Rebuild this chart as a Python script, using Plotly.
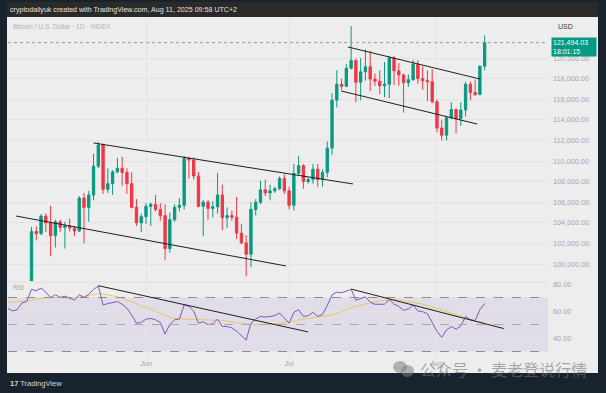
import plotly.graph_objects as go
import pandas as pd

# ---------------- data ----------------
dates = pd.date_range("2025-05-03", "2025-08-11", freq="D")

opens = [96900, 95900, 94300, 94750, 96850, 97050, 103150, 102950, 104650, 104000,
         102750, 104100, 103550, 103700, 103500, 103200, 106400, 105500, 106700, 109500,
         111550, 107250, 107800, 108950, 109300, 108900, 107800, 105500, 104000,
         104600, 105600, 105800, 105300, 104700, 101500, 104300, 105500, 105700, 110250,
         110100, 108550, 105600, 106000, 105400, 105550, 106700, 104500, 104700, 104550,
         103000, 102050, 100950, 105300, 106000, 107200, 106900, 107100, 107300, 108300,
         107100, 105700, 108800, 109550, 108000, 108200, 109200, 108200, 108900, 111250,
         115900, 117450, 117250, 119000, 119750, 117650, 118650, 119150, 117950, 117750,
         117300, 117450, 120000, 118750, 118350, 117600, 117900, 119400, 118000, 117800,
         117700, 115750, 113200, 112500, 114200, 115000, 114100, 114950, 117450, 116650,
         116450, 119200]
highs = [96950, 96350, 95200, 96900, 97700, 103600, 103650, 104850, 104900, 105650,
         104300, 104300, 104100, 104400, 103700, 106600, 106900, 107100, 110700, 111850,
         111700, 109300, 109100, 110300, 110400, 109300, 108900, 106300, 104900,
         105900, 105950, 106700, 105900, 105800, 105000, 105800, 106400, 110500, 110400,
         110350, 108950, 106200, 106200, 106100, 108850, 107700, 105500, 105200, 106500,
         103900, 102800, 106000, 106300, 108100, 108200, 107700, 107500, 108500, 108700,
         107500, 109700, 110500, 109700, 108400, 109700, 109700, 109200, 111900, 116600,
         118800, 118000, 119400, 123100, 119950, 120000, 120850, 120700, 118500, 118800,
         119600, 120200, 120200, 119500, 118500, 118400, 119800, 119800, 119200, 118800,
         118900, 116000, 114000, 114300, 115700, 115100, 115700, 117700, 117700, 117900,
         119300, 122200]
lows = [95750, 94150, 93500, 93400, 95850, 96900, 102300, 102800, 103100, 100750,
        101600, 103100, 101500, 103150, 102700, 103100, 102000, 104100, 106200, 109300,
        106800, 106900, 106700, 108800, 107600, 106800, 105400, 103700, 103100,
        103900, 103700, 105100, 104200, 100400, 101100, 104100, 105100, 105300, 108300,
        108200, 105500, 102700, 104300, 104500, 104900, 103300, 103500, 104200, 102400,
        101900, 98800, 99700, 104700, 105800, 106600, 106200, 106900, 107200, 106800,
        105300, 105200, 108600, 107300, 107800, 107800, 107500, 107500, 108400, 110600,
        115200, 116900, 117200, 118900, 115700, 115900, 117800, 116800, 117300, 116500,
        116200, 116100, 117400, 117300, 114700, 117200, 117800, 117500, 116900, 115800,
        115600, 112800, 112000, 112000, 114100, 112700, 113400, 114300, 115900, 116300,
        116400, 118800]
closes = [95900, 94300, 94750, 96850, 97050, 103150, 102950, 104650, 104000, 102750,
          104100, 103550, 103700, 103500, 103200, 106400, 105500, 106700, 109500, 111550,
          107250, 107800, 108950, 109300, 108900, 107800, 105500, 104000, 104600,
          105600, 105800, 105300, 104700, 101500, 104300, 105500, 105700, 110250, 110100,
          108550, 105600, 106000, 105400, 105550, 106700, 104500, 104700, 104550, 103000,
          102050, 100950, 105300, 106000, 107200, 106900, 107100, 107300, 108300, 107100,
          105700, 108800, 109550, 108000, 108200, 109200, 108200, 108900, 111250, 115900,
          117450, 117250, 119000, 119750, 117650, 118650, 119150, 117950, 117750, 117300,
          117450, 120000, 118750, 118350, 117600, 117900, 119400, 118000, 117800, 117700,
          115750, 113200, 112500, 114200, 115000, 114100, 114950, 117450, 116650, 116450,
          119200, 121494.03]

rsi = [62, 60, 61, 66, 67, 76, 75, 77, 74, 70, 72, 70, 71, 69.5, 68, 72, 70, 72.5, 76, 78.5,
       64.5, 65.5, 66.5, 67, 65, 62, 57, 51, 51.5,
       54, 54.5, 53.5, 51.5, 43, 50, 53.5, 54, 64.5, 63.5, 60, 51, 52, 50, 50.5, 54, 48.5,
       48.5, 47.5, 45, 42, 38.5, 51, 54, 56, 55.5, 56, 56.5, 58.5, 55,
       51, 59, 61, 56, 56.5, 59, 56, 57.5, 64, 72, 74, 73.5, 75, 76, 68, 69.5, 70.5, 66.5,
       65, 65, 65, 68.5, 65, 63.5, 60.5, 61.5, 64.5, 60, 59.5, 58, 52,
       45, 40.5, 46, 48.5, 46.5, 49, 56, 53.5, 53, 61, 65.5]
rsi_ma = [66.5, 66.5, 66.8, 67.2, 67.8, 68.5, 69, 69.5, 69.8, 70, 70, 69.8, 69.5, 69.5, 69.8,
          70.2, 70.8, 71.5, 72.2, 72.8, 72.5, 72, 71.2, 70.5, 69.5, 68.3, 67, 65.5, 64,
          62.5, 61, 59.5, 58, 56.5, 55.5, 54.5, 54, 54, 53.8, 53.6, 53.5, 53.5, 53.3, 53.2,
          53.2, 53, 52.6, 52, 51.4, 50.8, 50.2, 50, 49.8, 49.8, 50, 50.2, 50.5, 51, 51.2,
          51.5, 52.5, 53.5, 54, 54.5, 55, 55.3, 55.5, 56, 57, 58.3, 59.5, 61, 62.5, 63.5,
          64.5, 65.5, 66.2, 67, 67.5, 68, 68.4, 68.5, 68, 67.5, 67, 66.5, 65.8, 65, 64.2, 63.2,
          62, 60.8, 59.5, 58.3, 57, 55.8, 54.5, 53.5, 52.5, 51.8, 51.2]

price_ticks = [100000, 102000, 104000, 106000, 108000, 110000, 112000, 114000, 116000,
               118000, 120000]
rsi_ticks = [40, 60, 80]
rsi_levels = [70, 50, 30]
month_ticks = ["2025-06-01", "2025-07-01", "2025-08-01"]
month_labels = ["Jun", "Jul", "Aug"]

# hand-drawn trendlines: (date0, value0, date1, value1)
price_trendlines = [
    ("2025-05-21 00:00", 111750, "2025-07-14 10:00", 107770),
    ("2025-05-04 18:00", 104660, "2025-06-30 08:00", 99810),
    ("2025-07-13 08:00", 121070, "2025-08-10 00:00", 117960),
    ("2025-07-11 22:00", 116800, "2025-08-09 10:00", 113590),
]
rsi_trendlines = [
    ("2025-05-22 00:00", 78.75, "2025-07-05 00:00", 44.5),
    ("2025-07-14 00:00", 76.25, "2025-08-15 00:00", 47.0),
]

# ---------------- layout helpers ----------------
W, H = 606, 393
ML, MR, MT, MB = 8, 58, 18, 35
PW, PH = W - ML - MR, H - MT - MB


def px(X):
    return (X - ML) / PW


def py(Y):
    return (H - MB - Y) / PH


UP, DOWN = "#089981", "#f23645"
PANEL = "#ededed"
GRID = "#e3e3e3"
FONT = "Liberation Sans"

fig = go.Figure()
fig.add_trace(go.Candlestick(
    x=dates, open=opens, high=highs, low=lows, close=closes,
    increasing=dict(line=dict(color=UP, width=1), fillcolor=UP),
    decreasing=dict(line=dict(color=DOWN, width=1), fillcolor=DOWN),
    xaxis="x", yaxis="y", showlegend=False, hoverinfo="skip"))
fig.add_trace(go.Scatter(x=dates, y=rsi_ma, mode="lines",
                         line=dict(color="rgba(240,190,60,0.8)", width=1),
                         xaxis="x", yaxis="y2", showlegend=False, hoverinfo="skip"))
fig.add_trace(go.Scatter(x=dates, y=rsi, mode="lines",
                         line=dict(color="#7e57c2", width=1),
                         xaxis="x", yaxis="y2", showlegend=False, hoverinfo="skip"))

shapes = []
# frame: panel and header strip
shapes.append(dict(type="rect", xref="paper", yref="paper", x0=px(7), x1=px(598),
                   y0=py(373), y1=py(17), fillcolor=PANEL, line=dict(width=0), layer="below"))
shapes.append(dict(type="rect", xref="paper", yref="paper", x0=px(7), x1=px(598),
                   y0=py(17), y1=py(2), fillcolor="#2a2a2a", line=dict(width=0), layer="below"))
# RSI band
shapes.append(dict(type="rect", xref="paper", yref="y2", x0=0, x1=1, y0=rsi_levels[2],
                   y1=rsi_levels[0], fillcolor="rgba(126,87,194,0.10)", line=dict(width=0),
                   layer="below"))
for lv in rsi_levels:
    shapes.append(dict(type="line", xref="paper", yref="y2", x0=0, x1=1, y0=lv, y1=lv,
                       line=dict(color="#8c8c8c" if lv != 50 else "#a8a8a8", width=1, dash="dash")))
# pane separator
shapes.append(dict(type="line", xref="paper", yref="paper", x0=0, x1=1, y0=py(282), y1=py(282),
                   line=dict(color="#dcdcdc", width=1)))
# last price dotted line
shapes.append(dict(type="line", xref="paper", yref="y", x0=0, x1=1, y0=closes[-1], y1=closes[-1],
                   line=dict(color="#9a9a9a", width=1, dash="dot")))
for d0, v0, d1, v1 in price_trendlines:
    shapes.append(dict(type="line", xref="x", yref="y", x0=d0, x1=d1, y0=v0, y1=v1,
                       line=dict(color="#1e1e1e", width=1)))
for d0, v0, d1, v1 in rsi_trendlines:
    shapes.append(dict(type="line", xref="x", yref="y2", x0=d0, x1=d1, y0=v0, y1=v1,
                       line=dict(color="#1e1e1e", width=1)))
# watermark icon
shapes.append(dict(type="circle", xref="paper", yref="paper", x0=px(393), x1=px(407),
                   y0=py(373), y1=py(361), fillcolor="rgba(125,125,125,0.55)", line=dict(width=0)))
shapes.append(dict(type="circle", xref="paper", yref="paper", x0=px(401), x1=px(414),
                   y0=py(377), y1=py(365), fillcolor="rgba(125,125,125,0.55)", line=dict(width=0)))

annotations = [
    dict(text="cryptodailyuk created with TradingView.com, Aug 11, 2025 09:58 UTC+2",
         xref="paper", yref="paper", x=px(8), y=py(10), xanchor="left", yanchor="middle",
         showarrow=False, font=dict(color="#e2e2e2", size=7.1, family=FONT)),
    dict(text="Bitcoin / U.S. Dollar · 1D · INDEX", xref="paper", yref="paper",
         x=px(11), y=py(26), xanchor="left", yanchor="middle", showarrow=False,
         font=dict(color="#b3b3b3", size=6.6, family=FONT)),
    dict(text="USD", xref="paper", yref="paper", x=px(556), y=py(26), xanchor="left",
         yanchor="middle", showarrow=False, font=dict(color="#3a3a3a", size=7, family=FONT)),
    dict(text="121,494.03<br>18:01:15", xref="paper", yref="y", x=px(551), y=closes[-1],
         xanchor="left", yanchor="top", yshift=6, showarrow=False, align="left",
         bgcolor=UP, width=42, borderpad=1,
         font=dict(color="#ffffff", size=7, family=FONT)),
    dict(text="RSI", xref="paper", yref="paper", x=px(11), y=py(287), xanchor="left",
         yanchor="middle", showarrow=False, font=dict(color="#a0a0a0", size=6.5, family=FONT)),
    dict(text="公众号 · 麦老登说行情", xref="paper", yref="paper", x=px(418), y=py(369),
         xanchor="left", yanchor="middle", showarrow=False,
         font=dict(color="rgba(115,115,115,0.6)", size=16, family="Noto Sans CJK SC")),
    dict(text="<b>17</b> TradingView", xref="paper", yref="paper", x=px(8), y=py(383),
         xanchor="left", yanchor="middle", showarrow=False,
         font=dict(color="#d8d8d8", size=7.5, family=FONT)),
]

axis_font = dict(color="#a8a8a8", size=7.3, family=FONT)
fig.update_layout(
    width=W, height=H,
    margin=dict(l=ML, r=MR, t=MT, b=MB, pad=0),
    paper_bgcolor="#18232e", plot_bgcolor="rgba(0,0,0,0)",
    shapes=shapes, annotations=annotations, showlegend=False,
    xaxis=dict(type="date", anchor="y2", range=["2025-05-03 01:40", "2025-08-24 06:40"],
               tickvals=month_ticks, ticktext=month_labels, showgrid=True, gridcolor=GRID,
               zeroline=False, showline=False, ticks="", tickfont=axis_font,
               rangeslider=dict(visible=False), fixedrange=True),
    yaxis=dict(domain=[py(281), 1], side="right", range=[98350, 123883],
               tickvals=price_ticks, tickformat=",.2f", showgrid=True, gridcolor=GRID,
               zeroline=False, showline=False, ticks="", tickfont=axis_font,
               ticklabelstandoff=4, fixedrange=True),
    yaxis2=dict(domain=[0, py(283)], side="right", range=[25.19, 80.74], anchor="x",
                tickvals=rsi_ticks, tickformat=".2f", showgrid=True, gridcolor=GRID,
                zeroline=False, showline=False, ticks="", tickfont=axis_font,
                ticklabelstandoff=4, fixedrange=True),
)

fig.write_html("out.html", config={"displayModeBar": False},
               post_script="document.body.style.margin='0px';document.body.style.overflow='hidden';")
